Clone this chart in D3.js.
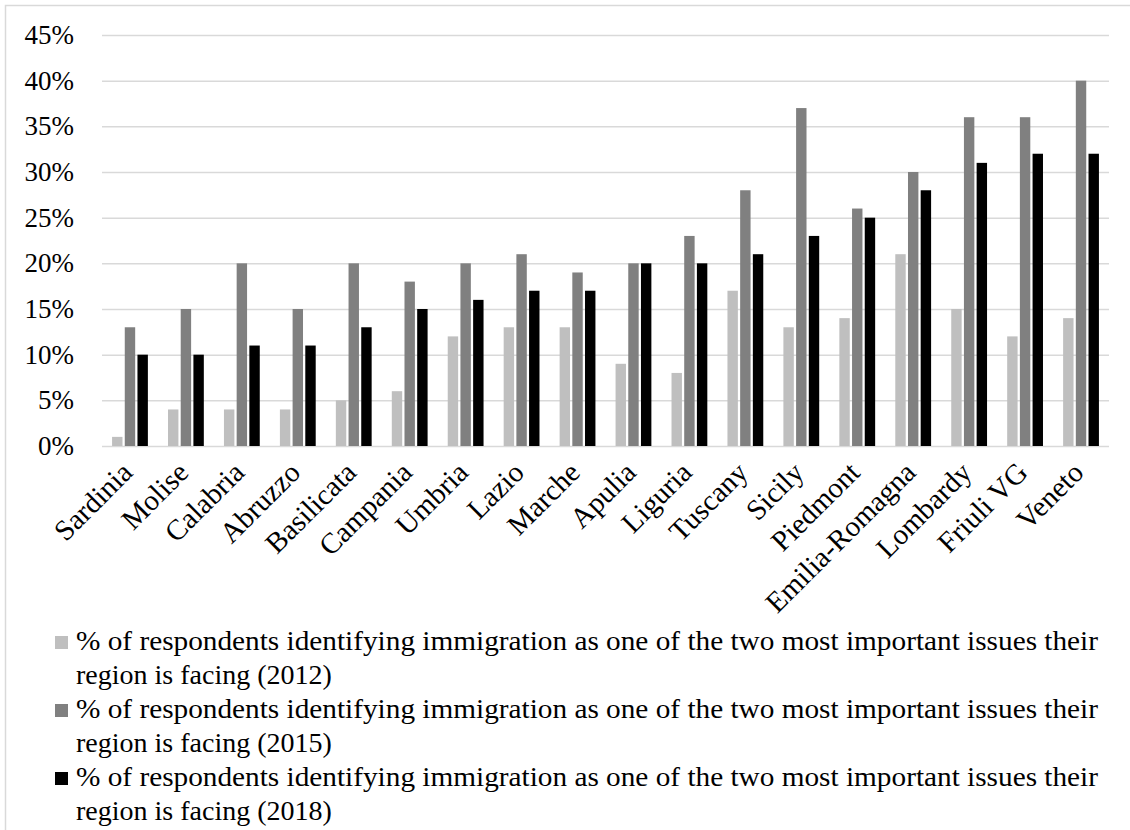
<!DOCTYPE html>
<html>
<head>
<meta charset="utf-8">
<script src="https://cdn.jsdelivr.net/npm/d3@7"></script>
<style>
  body { margin: 0; background: #fff; }
  text { font-family: "Liberation Serif", "Times New Roman", serif; fill: #000; }
</style>
</head>
<body>
<script>
var width = 1130, height = 830;

// regions, sorted as in the original figure
var regions = ["Sardinia", "Molise", "Calabria", "Abruzzo", "Basilicata", "Campania", "Umbria", "Lazio",
  "Marche", "Apulia", "Liguria", "Tuscany", "Sicily", "Piedmont", "Emilia-Romagna", "Lombardy", "Friuli VG", "Veneto"];

// % of respondents, one list per survey year
var y2012 = [1, 4, 4, 4, 5, 6, 12, 13, 13, 9, 8, 17, 13, 14, 21, 15, 12, 14];
var y2015 = [13, 15, 20, 15, 20, 18, 20, 21, 19, 20, 23, 28, 37, 26, 30, 36, 36, 40];
var y2018 = [10, 10, 11, 11, 13, 15, 16, 17, 17, 20, 20, 21, 23, 25, 28, 31, 32, 32];

var years = ["2012", "2015", "2018"];
var colors = ["#bfbfbf", "#808080", "#000000"];
var yTicks = [0, 5, 10, 15, 20, 25, 30, 35, 40, 45];

var series = [y2012, y2015, y2018];

var svg = d3.select("body")
  .append("svg")
  .attr("width", width)
  .attr("height", height);

// frame of the chart area (goes past the right and bottom edges, as in the image)
svg.append("rect")
  .attr("x", 5.5).attr("y", 5.5)
  .attr("width", 1140).attr("height", 860)
  .attr("fill", "none")
  .attr("stroke", "#d9d9d9")
  .attr("stroke-width", 1.5);

// plot area
var plotL = 102, plotR = 1109, plotT = 35, plotB = 446;

var x0 = d3.scaleBand()
  .domain(regions)
  .range([plotL, plotR])
  .paddingInner(0.36)
  .paddingOuter(0.18);

var x1 = d3.scaleBand()
  .domain(years)
  .range([0, x0.bandwidth()])
  .paddingInner(0.18);

var y = d3.scaleLinear()
  .domain([0, 45])
  .range([plotB, plotT]);

var color = d3.scaleOrdinal().domain(years).range(colors);

// gridlines + tick labels
var yAxis = svg.append("g")
  .attr("transform", "translate(" + plotL + ",0)")
  .call(d3.axisLeft(y).tickValues(yTicks).tickSize(-(plotR - plotL)).tickPadding(28)
    .tickFormat(function(d) { return d + "%"; }));
yAxis.select(".domain").remove();
yAxis.selectAll(".tick line").attr("stroke", "#d9d9d9").attr("stroke-width", 1.5);
yAxis.selectAll(".tick text")
  .style("font-family", "'Liberation Serif', 'Times New Roman', serif")
  .style("font-size", "27px")
  .attr("fill", "#000");

// bars
var groups = svg.append("g").selectAll("g")
  .data(regions)
  .enter()
  .append("g")
  .attr("transform", function(d) { return "translate(" + x0(d) + ",0)"; });

groups.selectAll("rect")
  .data(function(d, i) {
    return years.map(function(yr, k) { return { year: yr, value: series[k][i] }; });
  })
  .enter()
  .append("rect")
  .attr("x", function(d) { return x1(d.year); })
  .attr("y", function(d) { return y(d.value); })
  .attr("width", x1.bandwidth())
  .attr("height", function(d) { return y(0) - y(d.value); })
  .attr("fill", function(d) { return color(d.year); });

// category labels, rotated
svg.append("g").selectAll("text")
  .data(regions)
  .enter()
  .append("text")
  .attr("transform", function(d) {
    return "translate(" + (x0(d) + x0.bandwidth() / 2 - 3) + "," + (plotB + 21) + ") rotate(-45)";
  })
  .attr("text-anchor", "end")
  .attr("dy", "0.35em")
  .style("font-size", "29px")
  .text(function(d) { return d; });

// legend
var legend = svg.append("g").selectAll("g")
  .data(years)
  .enter()
  .append("g")
  .attr("transform", function(d, i) { return "translate(0," + (650 + i * 68) + ")"; });

legend.append("rect")
  .attr("x", 55).attr("y", -14)
  .attr("width", 13).attr("height", 13)
  .attr("fill", function(d) { return color(d); });

legend.append("text")
  .attr("x", 76).attr("y", 0)
  .style("font-size", "28px")
  .attr("textLength", 1022)
  .attr("lengthAdjust", "spacingAndGlyphs")
  .text("% of respondents identifying immigration as one of the two most important issues their");

legend.append("text")
  .attr("x", 76).attr("y", 34)
  .style("font-size", "28px")
  .text(function(d) { return "region is facing (" + d + ")"; });
</script>
</body>
</html>
